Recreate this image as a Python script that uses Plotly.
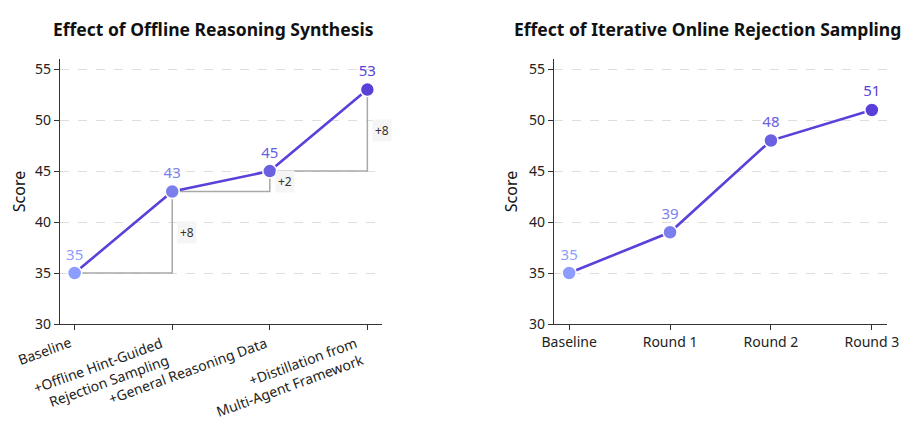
import plotly.graph_objects as go

# ---- data ----
left_title = "Effect of Offline Reasoning Synthesis"
left_categories = ["Baseline", "+Offline Hint-Guided<br>Rejection Sampling",
                   "+General Reasoning Data", "+Distillation from<br>Multi-Agent Framework"]
left_scores = [35, 43, 45, 53]

right_title = "Effect of Iterative Online Rejection Sampling"
right_categories = ["Baseline", "Round 1", "Round 2", "Round 3"]
right_scores = [35, 39, 48, 51]

y_ticks = [30, 35, 40, 45, 50, 55]
point_colors = ["#8c9dff", "#7b7fec", "#6a60e2", "#5a3fd9"]
right_point_colors = ["#8c9dff", "#7b7fec", "#6a60e2", "#5a3fd9"]
line_color = "#5b40da"
FONT = "Noto Sans"

W, H, OFF = 913, 423, 8  # page body margin offset


def px(x):
    return (x - OFF) / W


def py(y):
    return 1 - (y - OFF) / H


fig = go.Figure()

# bracket lines for left chart (drawn first, beneath)
for i in range(1, len(left_scores)):
    fig.add_trace(go.Scatter(
        x=[i - 1, i, i], y=[left_scores[i - 1], left_scores[i - 1], left_scores[i]],
        mode="lines", line=dict(color="#a8a8a8", width=1.5),
        xaxis="x", yaxis="y", showlegend=False, hoverinfo="skip"))

fig.add_trace(go.Scatter(
    x=list(range(len(left_scores))), y=left_scores,
    mode="lines+markers+text",
    text=[str(v) for v in left_scores], textposition="top center",
    textfont=dict(color=point_colors, size=15, family=FONT),
    line=dict(color=line_color, width=2.6),
    marker=dict(size=14, color=point_colors, line=dict(color="white", width=1.5)),
    xaxis="x", yaxis="y", showlegend=False))

fig.add_trace(go.Scatter(
    x=list(range(len(right_scores))), y=right_scores,
    mode="lines+markers+text",
    text=[str(v) for v in right_scores], textposition="top center",
    textfont=dict(color=right_point_colors, size=15, family=FONT),
    line=dict(color=line_color, width=2.6),
    marker=dict(size=14, color=right_point_colors, line=dict(color="white", width=1.5)),
    xaxis="x2", yaxis="y2", showlegend=False))

annotations = []
for i in range(1, len(left_scores)):
    d = left_scores[i] - left_scores[i - 1]
    annotations.append(dict(
        x=i, y=(left_scores[i] + left_scores[i - 1]) / 2, xref="x", yref="y",
        text=f"+{d}", showarrow=False, xanchor="left", xshift=5,
        font=dict(size=12, color="#333", family=FONT),
        bgcolor="#f5f5f5", borderpad=2))

# rotated, right-aligned category labels for the left chart
for i, lab in enumerate(left_categories):
    annotations.append(dict(
        x=i, y=py(324), xref="x", yref="paper", text=lab, showarrow=False,
        textangle=-20, xanchor="right", yanchor="top", align="right",
        xshift=2, yshift=-6, font=dict(size=14, color="#222", family=FONT)))

annotations.append(dict(x=px(213), y=py(29), xref="paper", yref="paper",
                        xanchor="center", yanchor="middle",
                        text=f"<b>{left_title}</b>", showarrow=False,
                        font=dict(size=17.5, color="#111", family=FONT)))
annotations.append(dict(x=px(707), y=py(29), xref="paper", yref="paper",
                        xanchor="center", yanchor="middle",
                        text=f"<b>{right_title}</b>", showarrow=False,
                        font=dict(size=17.5, color="#111", family=FONT)))

axis_common = dict(showline=True, linecolor="#333", linewidth=1.2, ticks="outside",
                   ticklen=5, tickcolor="#333", tickfont=dict(size=14, color="#222", family=FONT),
                   zeroline=False, mirror=False, automargin=False)
yaxis_common = dict(axis_common, range=[30, 56], tickvals=y_ticks,
                    showgrid=True, gridcolor="#dedede", griddash="dash", gridwidth=1,
                    title=dict(text="Score", font=dict(size=16, color="#111", family=FONT), standoff=7))

fig.update_layout(
    width=W, height=H,
    margin=dict(l=0, r=0, t=0, b=0),
    paper_bgcolor="white", plot_bgcolor="white",
    font=dict(family=FONT),
    xaxis=dict(axis_common, domain=[px(60), px(382)], range=[-0.15, 3.15],
               tickvals=list(range(len(left_categories))), showticklabels=False,
               showgrid=False, anchor="y"),
    yaxis=dict(yaxis_common, domain=[py(324), py(59)], anchor="x"),
    xaxis2=dict(axis_common, domain=[px(554), px(887)], range=[-0.15, 3.15],
                tickvals=list(range(len(right_categories))), ticktext=right_categories,
                tickangle=0, showgrid=False, anchor="y2"),
    yaxis2=dict(yaxis_common, domain=[py(324), py(59)], anchor="x2"),
    annotations=annotations,
)

fig.write_html("out.html")
